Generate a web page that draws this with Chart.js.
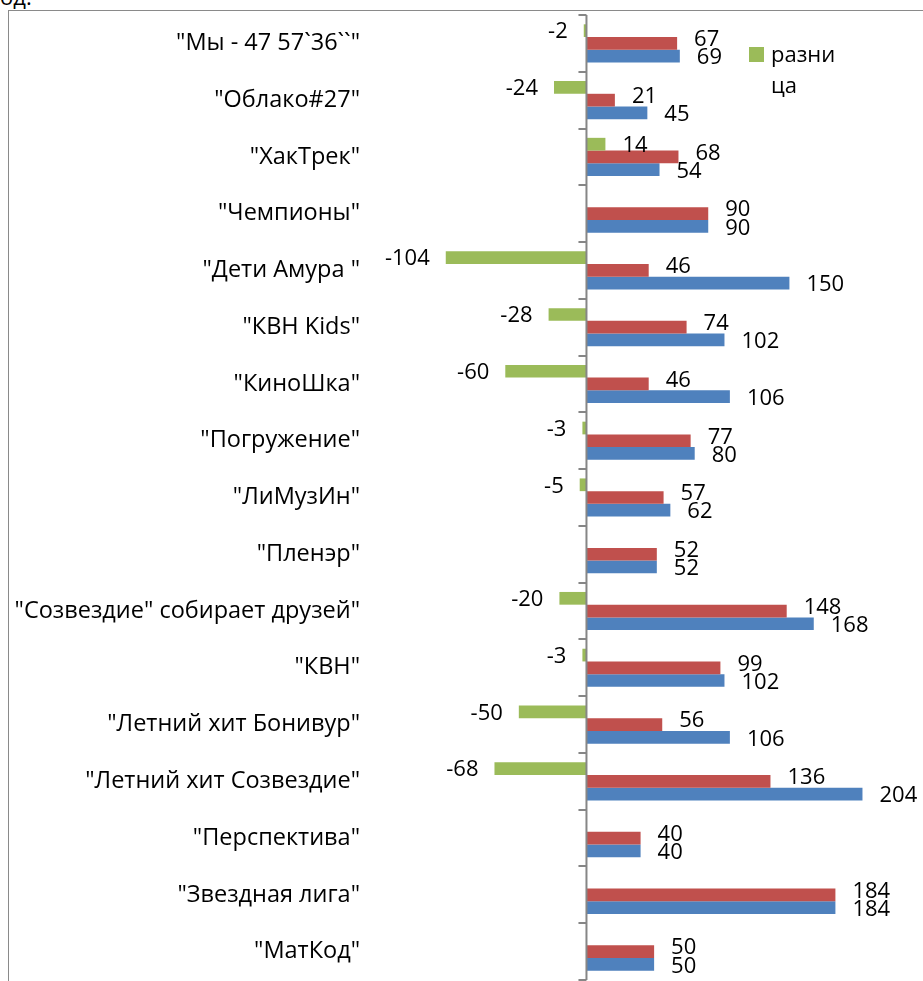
<!DOCTYPE html>
<html>
<head>
<meta charset="utf-8">
<script src="https://cdn.jsdelivr.net/npm/chart.js@4"></script>
<style>
    html, body { margin: 0; padding: 0; background: #fff; overflow: hidden; }
    #top { position: absolute; left: 0; top: -16px; font: 22px "Open Sans"; line-height: 24px; color: #000; }
    #frame { position: absolute; left: 8px; top: 10px; width: 1000px; height: 1000px; border: 1px solid #8a8a8a; box-sizing: border-box; }
    #wrap { position: absolute; left: 0; top: 0; width: 923px; height: 981px; }
</style>
</head>
<body>
<div id="top">од:</div>
<div id="frame"></div>
<div id="wrap"><canvas id="teamsChart"></canvas></div>
<script>
// Team results (green = difference, red / blue = two rounds)

const teams = [
    '"Мы - 47 57`36``"', '"Облако#27"', '"ХакТрек"', '"Чемпионы"', '"Дети Амура "',
    '"КВН Kids"', '"КиноШка"', '"Погружение"', '"ЛиМузИн"', '"Пленэр"',
    '"Созвездие" собирает друзей"', '"КВН"', '"Летний хит Бонивур"', '"Летний хит Созвездие"',
    '"Перспектива"', '"Звездная лига"', '"МатКод"'
];
const difference = [-2, -24, 14, null, -104, -28, -60, -3, -5, null, -20, -3, -50, -68, null, null, null];
const redValues = [67, 21, 68, 90, 46, 74, 46, 77, 57, 52, 148, 99, 56, 136, 40, 184, 50];
const blueValues = [69, 45, 54, 90, 150, 102, 106, 80, 62, 52, 168, 102, 106, 204, 40, 184, 50];
const legendLabel = ['разни', 'ца'];

const labelFont = '22px "Open Sans"';

const excelLook = {
    id: 'excelLook',
    afterDatasetsDraw(chart) {
        const ctx = chart.ctx;
        const area = chart.chartArea;
        const x0 = chart.scales.x.getPixelForValue(0);
        const n = teams.length;
        const step = (area.bottom - area.top) / n;

        ctx.save();
        // category axis at zero with tick marks
        ctx.strokeStyle = '#868686';
        ctx.lineWidth = 2;
        ctx.beginPath();
        ctx.moveTo(x0, area.top);
        ctx.lineTo(x0, area.bottom);
        for (let i = 0; i <= n; i++) {
            const y = Math.round(area.top + i * step);
            ctx.moveTo(x0 - 8, y);
            ctx.lineTo(x0, y);
        }
        ctx.stroke();

        // value labels
        ctx.font = labelFont;
        ctx.fillStyle = '#000';
        ctx.textBaseline = 'middle';
        const dy = [1.5, -3.5, 2];
        chart.data.datasets.forEach((ds, di) => {
            const meta = chart.getDatasetMeta(di);
            meta.data.forEach((bar, i) => {
                const v = ds.data[i];
                if (v === null) return;
                if (v < 0) {
                    ctx.textAlign = 'right';
                    ctx.fillText(String(v), bar.x - 16, bar.y + dy[di]);
                } else {
                    ctx.textAlign = 'left';
                    ctx.fillText(String(v), bar.x + 17, bar.y + dy[di]);
                }
            });
        });

        // legend (only the difference series)
        ctx.fillStyle = '#9BBB59';
        ctx.fillRect(749, 47, 15, 15);
        ctx.fillStyle = '#000';
        ctx.textAlign = 'left';
        ctx.textBaseline = 'alphabetic';
        ctx.fillText(legendLabel[0], 771, 62);
        ctx.fillText(legendLabel[1], 771, 93);
        ctx.restore();
    }
};

const ctx = document.getElementById('teamsChart').getContext('2d');

new Chart(ctx, {
    type: 'bar',
    data: {
        labels: teams,
        datasets: [
            { label: 'разница', data: difference, backgroundColor: '#9BBB59' },
            { label: 'red', data: redValues, backgroundColor: '#C0504D' },
            { label: 'blue', data: blueValues, backgroundColor: '#4F81BD' }
        ]
    },
    options: {
        indexAxis: 'y',
        responsive: true,
        maintainAspectRatio: false,
        animation: false,
        datasets: {
            bar: { categoryPercentage: 0.672, barPercentage: 1 }
        },
        layout: { padding: { top: 15, bottom: 1, right: 1, left: 0 } },
        scales: {
            x: {
                display: false,
                min: -160,
                max: 248
            },
            y: {
                grid: { display: false, drawTicks: false },
                border: { display: false },
                ticks: {
                    color: '#000',
                    padding: 10,
                    font: { family: 'Open Sans', size: 23.5 }
                },
                afterFit(scale) {
                    scale.width = 370;
                    scale.paddingTop = 0;
                    scale.paddingBottom = 0;
                }
            }
        },
        plugins: {
            legend: { display: false },
            tooltip: { enabled: false }
        }
    },
    plugins: [excelLook]
});
</script>
</body>
</html>
